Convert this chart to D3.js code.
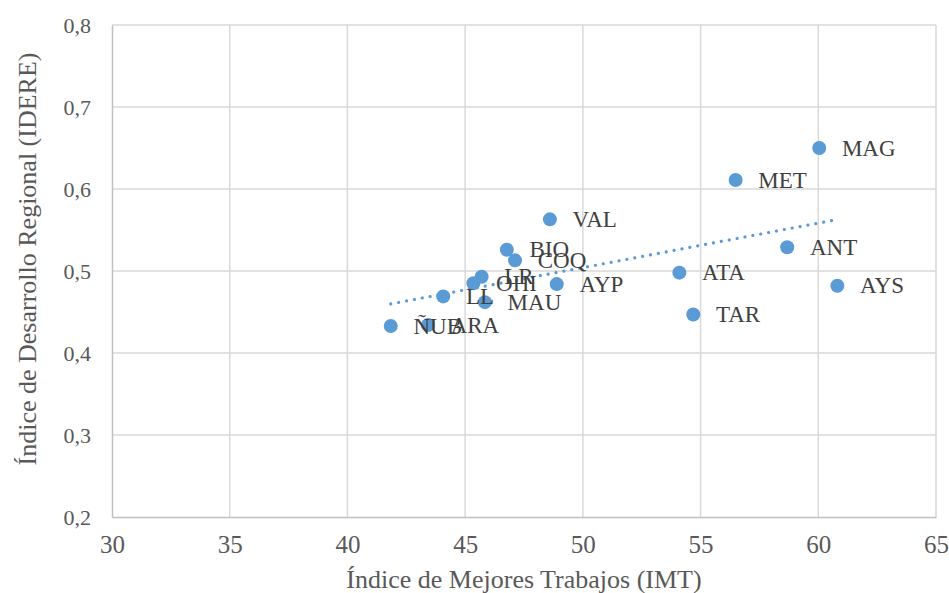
<!DOCTYPE html>
<html lang="es">
<head>
<meta charset="UTF-8">
<title>IMT vs IDERE</title>
<script src="https://d3js.org/d3.v7.min.js"></script>
<style>
    body { margin: 0; background: #fff; }
    svg text { font-family: "Liberation Serif", "Times New Roman", serif; }
    .grid line { stroke: #d9d9d9; stroke-width: 1.5px; }
    .tick text { fill: #595959; }
    .lbl { fill: #404040; font-size: 23px; }
    .title { fill: #595959; font-size: 26px; }
</style>
</head>
<body>
<svg id="chart" width="949" height="593"></svg>
<script>
// regiones y valores
const regions = ["MAG", "MET", "VAL", "ANT", "ATA", "AYS", "TAR", "AYP",
                 "BIO", "COQ", "LR", "OHI", "MAU", "LL", "ÑUB", "ARA"];
const imt   = [60.04, 56.49, 48.60, 58.68, 54.10, 60.81, 54.69, 48.89,
               46.77, 47.12, 45.70, 45.35, 45.84, 44.07, 41.84, 43.42];
const idere = [0.650, 0.611, 0.563, 0.529, 0.498, 0.482, 0.447, 0.484,
               0.526, 0.513, 0.493, 0.485, 0.462, 0.469, 0.433, 0.434];
const xTicks = [30, 35, 40, 45, 50, 55, 60, 65];
const yTicks = [0.2, 0.3, 0.4, 0.5, 0.6, 0.7, 0.8];

const svg = d3.select("#chart");
const width = 949, height = 593;
const margin = {top: 25, right: 13, bottom: 76, left: 112};

const x = d3.scaleLinear().domain([30, 65]).range([margin.left, width - margin.right]);
const y = d3.scaleLinear().domain([0.2, 0.8]).range([height - margin.bottom, margin.top]);

const points = regions.map((r, i) => ({name: r, x: imt[i], y: idere[i]}));

// grid
svg.append("g").attr("class", "grid")
    .selectAll("line.v").data(xTicks.slice(1)).join("line")
    .attr("x1", d => x(d)).attr("x2", d => x(d))
    .attr("y1", y(0.8)).attr("y2", y(0.2));
svg.append("g").attr("class", "grid")
    .selectAll("line.h").data(yTicks.slice(1)).join("line")
    .attr("x1", x(30)).attr("x2", x(65))
    .attr("y1", d => y(d)).attr("y2", d => y(d));

// axes
const fmt = d3.format(".1f");
const yAxis = svg.append("g")
    .attr("transform", `translate(${margin.left},0)`)
    .call(d3.axisLeft(y).tickValues(yTicks).tickSize(0).tickPadding(21)
        .tickFormat(d => fmt(d).replace(".", ",")));
yAxis.select(".domain").attr("stroke", "#bfbfbf").attr("stroke-width", 1.5);
yAxis.selectAll("text").attr("font-size", 22).attr("dy", "0.32em");

const xAxis = svg.append("g")
    .attr("transform", `translate(0,${height - margin.bottom})`)
    .call(d3.axisBottom(x).tickValues(xTicks).tickSize(0).tickPadding(18));
xAxis.select(".domain").attr("stroke", "#bfbfbf").attr("stroke-width", 1.5);
xAxis.selectAll("text").attr("font-size", 25).attr("dy", "0.71em");

// points
svg.append("g").selectAll("circle").data(points).join("circle")
    .attr("cx", d => x(d.x)).attr("cy", d => y(d.y))
    .attr("r", 7).attr("fill", "#5b9bd5");

// tendencia lineal (minimos cuadrados)
const mx = d3.mean(imt), my = d3.mean(idere);
const slope = d3.sum(imt, (v, i) => (v - mx) * (idere[i] - my)) /
              d3.sum(imt, v => (v - mx) * (v - mx));
const icpt = my - slope * mx;
const [x0, x1] = d3.extent(imt);
svg.append("line")
    .attr("x1", x(x0)).attr("y1", y(icpt + slope * x0))
    .attr("x2", x(x1)).attr("y2", y(icpt + slope * x1))
    .attr("stroke", "#5b9bd5").attr("stroke-width", 3.2)
    .attr("stroke-linecap", "round").attr("stroke-dasharray", "0.01 8");

// labels
svg.append("g").selectAll("text").data(points).join("text")
    .attr("class", "lbl")
    .attr("x", d => x(d.x) + 22.7).attr("y", d => y(d.y))
    .attr("dy", "0.33em")
    .text(d => d.name);

// axis titles
svg.append("text").attr("class", "title")
    .attr("x", (margin.left + width - margin.right) / 2).attr("y", 588)
    .attr("text-anchor", "middle")
    .text("Índice de Mejores Trabajos (IMT)");
svg.append("text").attr("class", "title")
    .attr("transform", "translate(36,259) rotate(-90)")
    .attr("text-anchor", "middle")
    .text("Índice de Desarrollo Regional (IDERE)");
</script>
</body>
</html>
